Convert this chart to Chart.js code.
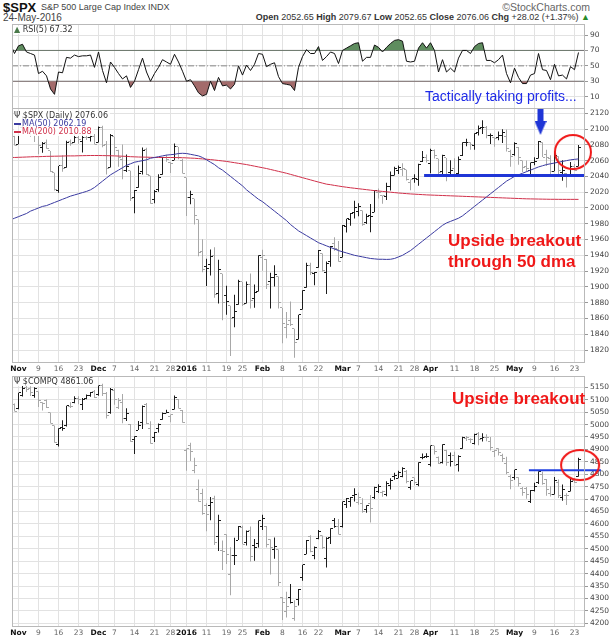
<!DOCTYPE html>
<html>
<head>
<meta charset="utf-8">
<title>$SPX S&amp;P 500 Large Cap Index</title>
<script src="https://cdn.jsdelivr.net/npm/chart.js@4.4.1/dist/chart.umd.min.js"></script>
<style>
  body { margin: 0; background: #fff; }
  #page { position: relative; width: 616px; height: 640px; overflow: hidden; font-family: "Liberation Sans", Arial, sans-serif; }
  #page canvas { position: absolute; left: 0; }
  .txt { position: absolute; white-space: nowrap; line-height: 1; }
  .frame { position: absolute; left: 12px; width: 573px; box-sizing: border-box; border: 1px solid #b9b9b9; pointer-events: none; }
  .lgd { position: absolute; left: 14px; font: 8px "DejaVu Sans", sans-serif; line-height: 8px; color: #333; background: rgba(255,255,255,0.9); white-space: nowrap; padding-right: 2px; }
  .sw { display: inline-block; width: 7px; height: 2px; vertical-align: middle; margin-right: 1px; }
</style>
</head>
<body>
<div id="page">
  <div class="txt" style="left:3px;top:1px;font-weight:bold;font-size:13px;color:#111">$SPX</div>
  <div class="txt" style="left:41px;top:3px;font-size:9px;color:#444">S&amp;P 500 Large Cap Index INDX</div>
  <div class="txt" style="right:26px;top:2px;font-size:10.5px;color:#666">©StockCharts.com</div>
  <div class="txt" style="left:3px;top:13px;font-size:10px;color:#444">24-May-2016</div>
  <div class="txt" style="right:26px;top:13px;font-size:9px;color:#333"><b>Open</b> 2052.65 <b>High</b> 2079.67 <b>Low</b> 2052.65 <b>Close</b> 2076.06 <b>Chg</b> +28.02 (+1.37%) <span style="color:#2a8a2a">▲</span></div>

  <canvas id="rsiChart" width="616" height="104" style="top:14px"></canvas>
  <canvas id="spxChart" width="616" height="288" style="top:98px"></canvas>
  <canvas id="compqChart" width="616" height="274" style="top:366px"></canvas>

  <div class="frame" style="top:24px;height:85px"></div>
  <div class="frame" style="top:108px;height:255px"></div>
  <div class="frame" style="top:376px;height:251px"></div>

  <div class="lgd" style="top:26px"><span style="color:#4a7a4a">▲</span> RSI(5) 67.32</div>
  <div class="lgd" style="top:112px">Ψ $SPX (Daily) 2076.06</div>
  <div class="lgd" style="top:120px;color:#3a3aa0"><span class="sw" style="background:#3a3aa0"></span>MA(50) 2062.19</div>
  <div class="lgd" style="top:128px;color:#d0304a"><span class="sw" style="background:#d0304a"></span>MA(200) 2010.88</div>
  <div class="lgd" style="top:378px">Ψ $COMPQ 4861.06</div>

  <div class="txt" style="left:425px;top:89px;font-size:14px;color:#1f2be8">Tactically taking profits...</div>
  <div class="txt" style="left:448px;top:232px;font-size:17px;font-weight:bold;color:#f01818">Upside breakout</div>
  <div class="txt" style="left:448px;top:253px;font-size:17px;font-weight:bold;color:#f01818">through 50 dma</div>
  <div class="txt" style="left:452px;top:390px;font-size:17px;font-weight:bold;color:#f01818">Upside breakout</div>
</div>

<script>
// trading days 29-Oct-2015 .. 24-May-2016, index 0..142
const xTickIdx = [2, 7, 12, 17, 22, 26, 31, 36, 40, 44, 49, 54, 58, 63, 68, 73, 77, 83, 87, 92, 97, 101, 105, 111, 116, 121, 126, 131, 136, 141];
const xTickText = ['Nov', '9', '16', '23', 'Dec', '7', '14', '21', '28', '2016', '11', '19', '25', 'Feb', '8', '16', '22', 'Mar', '7', '14', '21', '28', 'Apr', '11', '18', '25', 'May', '9', '16', '23'];
const monthLabels = ['Nov', 'Dec', '2016', 'Feb', 'Mar', 'Apr', 'May'];

const rsiTicks = [10, 30, 50, 70, 90];
const spxTicks = [1820, 1840, 1860, 1880, 1900, 1920, 1940, 1960, 1980, 2000, 2020, 2040, 2060, 2080, 2100, 2120];
const compqTicks = [4200, 4250, 4300, 4350, 4400, 4450, 4500, 4550, 4600, 4650, 4700, 4750, 4800, 4850, 4900, 4950, 5000, 5050, 5100, 5150];

const rsi5 = [78, 66, 76, 78, 68, 66, 64, 40, 43, 37,
  20, 13, 42, 41, 61, 60, 64, 62, 63, 63,
  64, 48, 68, 44, 28, 55, 48, 40, 33, 37,
  22, 30, 45, 60, 42, 30, 40, 48, 58, 55,
  52, 65, 55, 43, 30, 32, 24, 15, 11, 13,
  30, 18, 35, 24, 25, 20, 26, 50, 38, 51,
  44, 52, 66, 65, 49, 52, 54, 36, 27, 26,
  25, 18, 48, 62, 71, 66, 66, 75, 57, 62,
  68, 66, 53, 70, 73, 76, 79, 80, 56, 61,
  61, 77, 74, 68, 74, 79, 83, 84, 82, 56,
  55, 56, 73, 80, 73, 80, 70, 42, 58, 42,
  47, 42, 60, 70, 70, 66, 75, 79, 80, 57,
  57, 54, 58, 64, 40, 28, 47, 35, 27, 27,
  38, 40, 66, 45, 44, 32, 52, 37, 38, 33,
  49, 45, 67.32];

const spxOpen = [2088.5, 2090, 2080.8, 2102.6, 2110.6, 2101.9, 2098.6, 2096.6, 2077.2, 2083.4,
  2072.3, 2044.6, 2022.1, 2053.7, 2051, 2083.7, 2082.8, 2089.4, 2084.4, 2089.3,
  2088.8, 2090.9, 2082.9, 2101.7, 2080.7, 2051.2, 2090.4, 2073.4, 2061.2, 2047.9,
  2047.3, 2013.4, 2025.6, 2046.5, 2073.8, 2040.8, 2010.3, 2023.2, 2042.2, 2063.5,
  2057.8, 2060.5, 2077.3, 2060.6, 2038.2, 2013.8, 2011.7, 1985.3, 1945.2, 1926.1,
  1927.8, 1940.3, 1891.7, 1916.7, 1888.7, 1876.2, 1861.5, 1877.4, 1906.3, 1878.8,
  1902.5, 1885.2, 1894, 1936.9, 1935.3, 1907.1, 1911.7, 1913.1, 1873.3, 1848.5,
  1857.1, 1847, 1833.4, 1871.4, 1898.8, 1927.6, 1916.7, 1924.4, 1942.4, 1917.6,
  1931.9, 1954.9, 1947.1, 1937.1, 1976.6, 1985.6, 1994, 1996.1, 1996.9, 1981.4,
  1990, 1994.7, 2019.3, 2015.3, 2014.2, 2026.9, 2041.2, 2047.9, 2048.6, 2048.6,
  2032.5, 2037.9, 2035.8, 2058.3, 2063.8, 2056.6, 2073.2, 2062.5, 2045.6, 2063.4,
  2045.5, 2050.2, 2043.7, 2065.9, 2082.9, 2083.1, 2078.8, 2096.1, 2101.5, 2102.1,
  2091.5, 2089.4, 2089.8, 2092.3, 2090.9, 2071.8, 2067.2, 2077.2, 2060.3, 2052.9,
  2047.8, 2057.6, 2062.6, 2083.3, 2067.2, 2062.5, 2046.5, 2065, 2044.4, 2044.2,
  2041.9, 2052.2, 2052.65];
const spxHigh = [2092.5, 2094.3, 2106.2, 2116.5, 2114.6, 2108.8, 2101.9, 2096.6, 2083.7, 2086.9,
  2072.3, 2044.6, 2053.2, 2066.7, 2085.3, 2086.7, 2097.1, 2095.6, 2094.1, 2093,
  2093.3, 2093.8, 2103.4, 2104.3, 2085, 2093.8, 2090.4, 2073.9, 2080.3, 2067.7,
  2047.3, 2022.9, 2053.9, 2076.7, 2076.4, 2040.8, 2022.9, 2042.7, 2064.7, 2067.4,
  2057.8, 2081.6, 2077.3, 2062.5, 2038.2, 2021.9, 2011.7, 1985.3, 1960.4, 1935.7,
  1947.4, 1950.3, 1934.5, 1916.7, 1901.4, 1876.2, 1889.9, 1908.9, 1906.3, 1906.7,
  1916.9, 1902.9, 1940.2, 1947.2, 1935.3, 1918, 1927.4, 1913.1, 1873.3, 1868.3,
  1881.6, 1847, 1864.8, 1895.8, 1930.7, 1930.5, 1918.8, 1946.7, 1942.4, 1932.1,
  1951.8, 1962.9, 1958.3, 1978.4, 1986.5, 1993.7, 2009.1, 2006.1, 1996.9, 1992.7,
  2005.1, 2022.4, 2024.6, 2015.9, 2032, 2046.2, 2052.4, 2053.9, 2056.6, 2048.6,
  2036, 2042.7, 2055.9, 2072.2, 2067.9, 2075.1, 2074, 2062.5, 2067.3, 2063.4,
  2060.6, 2062.9, 2065.1, 2083.2, 2087.8, 2083.2, 2094.7, 2104.4, 2111.1, 2103.8,
  2094.3, 2089.4, 2096.9, 2099.9, 2099.3, 2073.9, 2083.4, 2077.2, 2060.3, 2060.2,
  2057.7, 2064.2, 2084.9, 2083.3, 2073.9, 2066.8, 2071.9, 2065.7, 2060.6, 2044.2,
  2058.4, 2055.6, 2079.67];
const spxLow = [2082.6, 2079.3, 2080.8, 2097.5, 2096.9, 2090.4, 2083.7, 2068.2, 2069.9, 2074.9,
  2045.7, 2022, 2019.4, 2045.9, 2051, 2078.8, 2082.8, 2081.4, 2070.3, 2086.3,
  2084.1, 2080.4, 2082.9, 2077.1, 2042.4, 2051.2, 2066.8, 2052.3, 2036.5, 2045.7,
  2008.8, 1993.3, 2025.6, 2042.4, 2041.7, 2005.3, 2005.9, 2020.5, 2042.2, 2058.7,
  2044.2, 2060.5, 2061.9, 2043.6, 1989.7, 2004.7, 1979.1, 1938.8, 1918.5, 1901.1,
  1914.4, 1886.3, 1878.9, 1857.8, 1864.6, 1812.3, 1848.9, 1877.4, 1875.9, 1878.8,
  1872.7, 1873.7, 1894, 1920.3, 1897.3, 1872.6, 1900.5, 1872.7, 1828.5, 1834.9,
  1850.3, 1810.1, 1833.4, 1871.4, 1898.8, 1915.1, 1902.2, 1924.4, 1919.4, 1891,
  1925.4, 1945.8, 1931.8, 1937.1, 1968.9, 1977.4, 1986.8, 1989.4, 1977.4, 1979.8,
  1969.3, 1994.7, 2012.1, 2005.2, 2010, 2022.2, 2041.2, 2043.1, 2040.6, 2034.9,
  2022.5, 2031.9, 2028.1, 2058.3, 2057.5, 2043.9, 2062.6, 2042.6, 2043.1, 2033.8,
  2041.7, 2041.9, 2039.7, 2065.9, 2078.1, 2073.7, 2073.7, 2091.7, 2093.8, 2088.5,
  2081.2, 2077.5, 2085.8, 2082.3, 2071.6, 2052.3, 2066.1, 2054.9, 2045.6, 2045.8,
  2039.5, 2054.3, 2062.6, 2064.5, 2053.1, 2043.1, 2046.5, 2040.8, 2034.5, 2025.9,
  2041.9, 2047.3, 2052.65];
const spxClose = [2089.4, 2079.4, 2104.1, 2109.8, 2102.3, 2099.9, 2099.2, 2078.6, 2081.7, 2075,
  2046, 2023, 2053.2, 2050.4, 2083.6, 2081.2, 2089.2, 2086.6, 2089.1, 2088.9,
  2090.1, 2080.4, 2102.6, 2079.5, 2049.6, 2091.7, 2077.1, 2063.6, 2047.6, 2052.2,
  2012.4, 2021.9, 2043.4, 2073.1, 2041.9, 2005.6, 2021.2, 2039, 2064.3, 2061,
  2056.5, 2078.4, 2063.4, 2043.9, 2012.7, 2016.7, 1990.3, 1943.1, 1922, 1923.7,
  1938.7, 1890.3, 1921.8, 1880.3, 1881.3, 1859.3, 1869, 1906.9, 1877.1, 1903.6,
  1883, 1893.4, 1940.2, 1939.4, 1903, 1912.5, 1915.5, 1880.1, 1853.4, 1852.2,
  1851.9, 1829.1, 1864.8, 1895.6, 1926.8, 1917.8, 1917.8, 1945.5, 1921.3, 1929.8,
  1951.7, 1948.1, 1932.2, 1978.4, 1986.5, 1993.4, 2000, 2001.8, 1979.3, 1989.3,
  1989.6, 2022.2, 2019.6, 2015.9, 2027.2, 2040.6, 2049.6, 2051.6, 2049.8, 2036.7,
  2035.9, 2037.1, 2055, 2064, 2059.7, 2072.8, 2066.1, 2045.2, 2066.7, 2041.9,
  2047.6, 2042, 2061.7, 2082.4, 2082.8, 2080.7, 2094.3, 2100.8, 2102.4, 2091.5,
  2091.6, 2087.8, 2091.7, 2095.2, 2075.8, 2065.3, 2081.4, 2063.4, 2051.1, 2050.6,
  2057.1, 2058.7, 2084.4, 2064.5, 2064.1, 2046.6, 2066.7, 2047.2, 2047.6, 2040,
  2052.3, 2048, 2076.06];

const ma50 = [1985, 1987, 1989, 1991, 1993, 1996, 1998, 2000, 2002, 2003,
  2005, 2007, 2009, 2011, 2013, 2015, 2016.5, 2018, 2019.5, 2021,
  2023, 2026, 2030, 2034, 2038, 2042, 2045, 2048, 2051, 2054,
  2056, 2058, 2059, 2060, 2061, 2063, 2064, 2065, 2066, 2067,
  2067.5, 2068, 2069, 2069.3, 2069, 2068, 2067, 2066, 2064, 2061,
  2058, 2055, 2051, 2048, 2044, 2040, 2036, 2032, 2028, 2023,
  2019, 2015, 2011, 2008, 2004, 2000, 1996, 1992, 1988, 1984,
  1979, 1975, 1971, 1968, 1965, 1962, 1959, 1956, 1954, 1952,
  1950, 1948, 1946, 1944.5, 1943, 1941.5, 1940, 1939, 1938, 1937,
  1936, 1935.5, 1935, 1935, 1934.8, 1935, 1936, 1938, 1940, 1943,
  1946, 1950, 1954, 1958, 1962, 1966, 1970, 1974, 1978, 1981,
  1983, 1985, 1987, 1990, 1994, 1998, 2002, 2006, 2010, 2014,
  2018, 2022, 2026, 2030, 2034, 2037, 2040, 2042, 2044, 2046,
  2048, 2050, 2052, 2053.5, 2055, 2056, 2057, 2058, 2059, 2060,
  2061, 2061.6, 2062.19];
const ma200 = [2064, 2064, 2064.2, 2064.4, 2064.6, 2064.8, 2065, 2065, 2065.2, 2065.4,
  2065.5, 2065.6, 2065.7, 2065.8, 2066, 2066, 2066, 2066.2, 2066.3, 2066.4,
  2066.5, 2066.5, 2066.5, 2066.4, 2066.3, 2066.2, 2066, 2065.8, 2065.6, 2065.4,
  2065, 2064.8, 2064.6, 2064.5, 2064.4, 2064.2, 2064, 2064, 2064, 2064,
  2064, 2063.9, 2063.8, 2063.7, 2063.5, 2063.2, 2063, 2062.6, 2062.2, 2061.8,
  2061.3, 2060.8, 2060.2, 2059.6, 2059, 2058.2, 2057.4, 2056.6, 2055.8, 2055,
  2054, 2053, 2052, 2051, 2050, 2048.8, 2047.6, 2046.4, 2045.2, 2044,
  2042.6, 2041.2, 2039.8, 2038.4, 2037, 2035.6, 2034.2, 2032.8, 2031.5, 2030.2,
  2029.5, 2028.6, 2027.8, 2027, 2026.3, 2025.6, 2025, 2024.4, 2023.8, 2023.2,
  2022.6, 2022, 2021.5, 2021, 2020.5, 2020, 2019.5, 2019, 2018.6, 2018.2,
  2017.8, 2017.5, 2017.2, 2016.9, 2016.6, 2016.4, 2016.2, 2016, 2015.8, 2015.6,
  2015.4, 2015.2, 2015, 2014.8, 2014.6, 2014.4, 2014.2, 2014, 2013.8, 2013.6,
  2013.4, 2013.2, 2013, 2012.8, 2012.6, 2012.4, 2012.2, 2012, 2011.8, 2011.6,
  2011.5, 2011.4, 2011.3, 2011.2, 2011.1, 2011, 2011, 2010.95, 2010.9, 2010.9,
  2010.9, 2010.9, 2010.88];

const compqOpen = [5085, 5080, 5065, 5115, 5150, 5145, 5115, 5132, 5088, 5096,
  5048, 4995, 4919, 4990, 4995, 5074, 5090, 5105, 5079, 5104,
  5118, 5132, 5120, 5157, 5126, 5050, 5138, 5068, 5088, 5023,
  5000, 4940, 4978, 5010, 5079, 4983, 4947, 4983, 5019, 5046,
  5033, 5061, 5100, 5058, 4897, 4917, 4814, 4739, 4722, 4673,
  4676, 4704, 4548, 4492, 4558, 4398, 4472, 4535, 4587, 4527,
  4572, 4514, 4521, 4588, 4590, 4537, 4495, 4497, 4305, 4247,
  4302, 4218, 4294, 4383, 4478, 4550, 4472, 4543, 4552, 4460,
  4547, 4612, 4590, 4588, 4680, 4690, 4715, 4688, 4682, 4659,
  4684, 4708, 4730, 4728, 4719, 4754, 4790, 4784, 4790, 4812,
  4747, 4785, 4758, 4868, 4871, 4839, 4914, 4866, 4848, 4895,
  4877, 4874, 4838, 4903, 4945, 4941, 4925, 4966, 4942, 4946,
  4932, 4893, 4903, 4875, 4845, 4789, 4786, 4787, 4741, 4741,
  4691, 4736, 4768, 4797, 4780, 4723, 4718, 4768, 4708, 4714,
  4732, 4774, 4790];
const compqHigh = [5088, 5085, 5128, 5156, 5161, 5154, 5150, 5133, 5090, 5101,
  5049, 4996, 4985, 5017, 5076, 5090, 5114, 5114, 5107, 5121,
  5131, 5139, 5157, 5164, 5131, 5147, 5145, 5107, 5123, 5066,
  5002, 4953, 5014, 5077, 5087, 5013, 4970, 5004, 5049, 5060,
  5041, 5117, 5103, 5059, 4904, 4927, 4866, 4779, 4742, 4683,
  4708, 4713, 4637, 4533, 4558, 4506, 4544, 4592, 4593, 4573,
  4590, 4539, 4614, 4637, 4592, 4538, 4545, 4497, 4306, 4327,
  4358, 4293, 4338, 4436, 4535, 4554, 4509, 4575, 4553, 4546,
  4583, 4624, 4620, 4690, 4704, 4708, 4744, 4726, 4703, 4675,
  4716, 4750, 4760, 4734, 4772, 4784, 4806, 4814, 4828, 4817,
  4774, 4787, 4848, 4883, 4884, 4916, 4915, 4871, 4921, 4899,
  4888, 4891, 4876, 4951, 4954, 4945, 4963, 4970, 4965, 4961,
  4950, 4899, 4905, 4882, 4870, 4798, 4818, 4788, 4749, 4749,
  4737, 4766, 4812, 4810, 4781, 4752, 4789, 4779, 4759, 4723,
  4781, 4784, 4866];
const compqLow = [5059, 5053, 5062, 5113, 5131, 5115, 5108, 5071, 5057, 5067,
  5004, 4927, 4912, 4975, 4992, 5067, 5086, 5082, 5059, 5102,
  5112, 5107, 5116, 5115, 5024, 5044, 5080, 5063, 5005, 5014,
  4931, 4881, 4978, 4982, 5002, 4923, 4930, 4968, 5019, 5046,
  5009, 5061, 5065, 5007, 4814, 4853, 4804, 4689, 4637, 4570,
  4615, 4515, 4491, 4414, 4439, 4313, 4435, 4535, 4518, 4513,
  4449, 4452, 4505, 4575, 4505, 4396, 4460, 4350, 4213, 4223,
  4280, 4210, 4272, 4371, 4478, 4486, 4458, 4538, 4499, 4425,
  4519, 4585, 4557, 4586, 4664, 4669, 4690, 4677, 4645, 4645,
  4606, 4700, 4724, 4709, 4711, 4739, 4778, 4784, 4788, 4764,
  4738, 4756, 4752, 4860, 4865, 4831, 4879, 4841, 4843, 4834,
  4831, 4833, 4811, 4903, 4934, 4926, 4920, 4917, 4932, 4933,
  4896, 4869, 4875, 4849, 4800, 4740, 4778, 4751, 4713, 4701,
  4684, 4730, 4761, 4758, 4713, 4710, 4718, 4704, 4693, 4676,
  4730, 4765, 4790];
const compqClose = [5074.3, 5053.8, 5127.2, 5145.1, 5142.5, 5127.7, 5147.1, 5095.3, 5083.2, 5067,
  5005.1, 4927.9, 4984.6, 4986, 5075.2, 5073.6, 5104.9, 5102.5, 5102.8, 5116.1,
  5127.5, 5108.7, 5156.3, 5123.2, 5037.5, 5142.3, 5101.8, 5098.2, 5022.9, 5045.2,
  4933.5, 4952.2, 4995.4, 5071.1, 5002.6, 4923.1, 4968.9, 5001.1, 5045.9, 5048.5,
  5041, 5107.9, 5065.9, 5007.4, 4903.1, 4891.4, 4835.8, 4689.4, 4643.6, 4638,
  4685.9, 4526.1, 4615, 4488.4, 4477, 4471.7, 4472.1, 4591.2, 4518.5, 4567.7,
  4468.2, 4506.7, 4614, 4620.4, 4517, 4504.2, 4509.6, 4363.1, 4283.6, 4268.8,
  4283.8, 4266.8, 4337.5, 4436, 4534.1, 4487.5, 4504.4, 4570.6, 4503.6, 4542.6,
  4582.2, 4590.5, 4558, 4689.6, 4703.4, 4707.4, 4717, 4708.3, 4648.8, 4674.4,
  4662.2, 4748.5, 4750.3, 4728.7, 4764, 4775, 4795.7, 4808.9, 4821.7, 4768.9,
  4773.5, 4766.8, 4846.6, 4869.3, 4869.9, 4914.5, 4891.8, 4843.9, 4920.7, 4848.4,
  4850.7, 4833.4, 4872.1, 4947.4, 4945.9, 4938.2, 4960, 4940.3, 4948.1, 4945.9,
  4906.2, 4895.8, 4888.3, 4863.1, 4805.3, 4775.4, 4817.6, 4763.2, 4725.6, 4717.1,
  4736.2, 4750.2, 4809.9, 4760.7, 4737.3, 4717.7, 4775.5, 4715.7, 4739.1, 4712.5,
  4769.6, 4765.8, 4861.06];

// hand-drawn marks on the original picture (bar index / price)
const spxSupport = { from: 103.4, to: 143.4, level: 2041 };
const spxArrow = { x: 132.5, y: 2109.6 };
const spxCircle = { x: 140.6, y: 2070.9 };
const compqSupport = { from: 129.6, to: 147.6, level: 4816 };
const compqCircle = { x: 142.4, y: 4837 };

const X_MIN = 0.375, X_MAX = 143.375;
const DARK = '#1c1c1c', GRAY = '#a8a8a8', GRID = '#e2e2e2';
const BLUE = '#1f2be8', RED = '#f01818';

Chart.defaults.font.family = 'DejaVu Sans';
Chart.defaults.animation = false;

function img(w, h, draw) {
    const c = document.createElement('canvas');
    c.width = w; c.height = h;
    draw(c.getContext('2d'));
    return c;
}
const tickImg = (color, left) => img(5, 1, g => { g.fillStyle = color; g.fillRect(left ? 0 : 3, 0, 2, 1); });
const openDark = tickImg(DARK, true), openGray = tickImg(GRAY, true);
const closeDark = tickImg(DARK, false), closeGray = tickImg(GRAY, false);

const ring = (rx, ry) => img(2 * rx + 4, 2 * ry + 4, g => {
    g.strokeStyle = RED; g.lineWidth = 2;
    g.beginPath(); g.ellipse(rx + 2, ry + 2, rx, ry, 0, 0, Math.PI * 2); g.stroke();
});
const arrowImg = img(12, 27, g => {
    g.fillStyle = '#1f35d6';
    g.fillRect(3, 0, 6, 14);
    g.beginPath(); g.moveTo(0, 13); g.lineTo(12, 13); g.lineTo(6, 27); g.closePath(); g.fill();
});

const pts = arr => arr.map((v, i) => ({ x: i, y: v }));

function ohlcSets(o, h, l, c) {
    const col = c.map((v, i) => v < (i ? c[i - 1] : o[0]) ? GRAY : DARK);
    return [
        { type: 'scatter', data: pts(o), pointStyle: col.map(k => k === GRAY ? openGray : openDark), pointRadius: 2 },
        { type: 'scatter', data: pts(c), pointStyle: col.map(k => k === GRAY ? closeGray : closeDark), pointRadius: 2 },
        { type: 'bar', data: h.map((v, i) => ({ x: i, y: [l[i], v] })), backgroundColor: col,
          barThickness: 1, borderWidth: 0, inflateAmount: 0 }
    ];
}

function hline(from, to, level, color, width, clip) {
    return { type: 'line', data: [{ x: from, y: level }, { x: to, y: level }], borderColor: color,
             borderWidth: width, pointRadius: 0, clip: clip };
}

function marker(pos, style) {
    return { type: 'scatter', data: [pos], pointStyle: style, pointRadius: 3, clip: false };
}

function panel(id, yMin, yMax, yTicks, xLabels, bottomPad, datasets) {
    return new Chart(document.getElementById(id), {
        type: 'line',
        data: { datasets: datasets },
        options: {
            responsive: false,
            events: [],
            layout: { padding: { left: 12, right: 0, top: 10, bottom: bottomPad } },
            plugins: { legend: { display: false }, tooltip: { enabled: false } },
            elements: { line: { tension: 0 } },
            scales: {
                x: {
                    type: 'linear', min: X_MIN, max: X_MAX, offset: false,
                    afterBuildTicks: s => { s.ticks = xTickIdx.map(v => ({ value: v })); },
                    afterFit: s => { s.height = xLabels ? 14 : 0; },
                    grid: { color: GRID, drawTicks: false, offset: false },
                    border: { display: false },
                    ticks: {
                        display: xLabels, autoSkip: false, maxRotation: 0, padding: 3,
                        callback: (v, i) => xTickText[i],
                        font: ctx => ({ family: 'DejaVu Sans', size: 7.5,
                                        weight: monthLabels.includes(xTickText[ctx.index]) ? 'bold' : 'normal' }),
                        color: ctx => monthLabels.includes(xTickText[ctx.index]) ? '#111' : '#666'
                    }
                },
                y: {
                    position: 'right', min: yMin, max: yMax,
                    afterBuildTicks: s => { s.ticks = yTicks.map(v => ({ value: v })); },
                    afterFit: s => { s.width = 32; },
                    grid: { color: GRID, tickLength: 4, tickColor: '#999' },
                    border: { display: false },
                    ticks: { padding: 2, color: '#444', font: { size: 7.5 }, callback: v => v }
                }
            }
        }
    });
}

// RSI(5)
panel('rsiChart', -4.7, 104.3, rsiTicks, false, 10, [
    { data: pts(rsi5), borderColor: '#111', borderWidth: 1, pointRadius: 0,
      fill: { target: { value: 70 }, above: '#5f8d5f', below: 'rgba(0,0,0,0)' } },
    { data: pts(rsi5), borderColor: 'rgba(0,0,0,0)', borderWidth: 0, pointRadius: 0,
      fill: { target: { value: 30 }, above: 'rgba(0,0,0,0)', below: '#a36b6b' } },
    hline(X_MIN, X_MAX, 70, '#6e6e6e', 1),
    hline(X_MIN, X_MAX, 30, '#6e6e6e', 1),
    Object.assign(hline(X_MIN, X_MAX, 50, '#8a8a8a', 1), { borderDash: [6, 2, 1, 2] })
]);

// $SPX daily bars with moving averages
panel('spxChart', 1804.8, 2126.7, spxTicks, true, 10, [
    marker(spxCircle, ring(18, 17)),
    marker(spxArrow, arrowImg),
    hline(spxSupport.from, spxSupport.to, spxSupport.level, '#1f35d6', 3),
    { data: pts(ma50), borderColor: '#3a3aa0', borderWidth: 1, pointRadius: 0 },
    { data: pts(ma200), borderColor: '#d0304a', borderWidth: 1, pointRadius: 0 },
    ...ohlcSets(spxOpen, spxHigh, spxLow, spxClose)
]);

// $COMPQ daily bars
panel('compqChart', 4189, 5195.5, compqTicks, true, 0, [
    marker(compqCircle, ring(19, 15)),
    hline(compqSupport.from, compqSupport.to, compqSupport.level, '#2040e0', 2, false),
    ...ohlcSets(compqOpen, compqHigh, compqLow, compqClose)
]);
</script>
</body>
</html>
